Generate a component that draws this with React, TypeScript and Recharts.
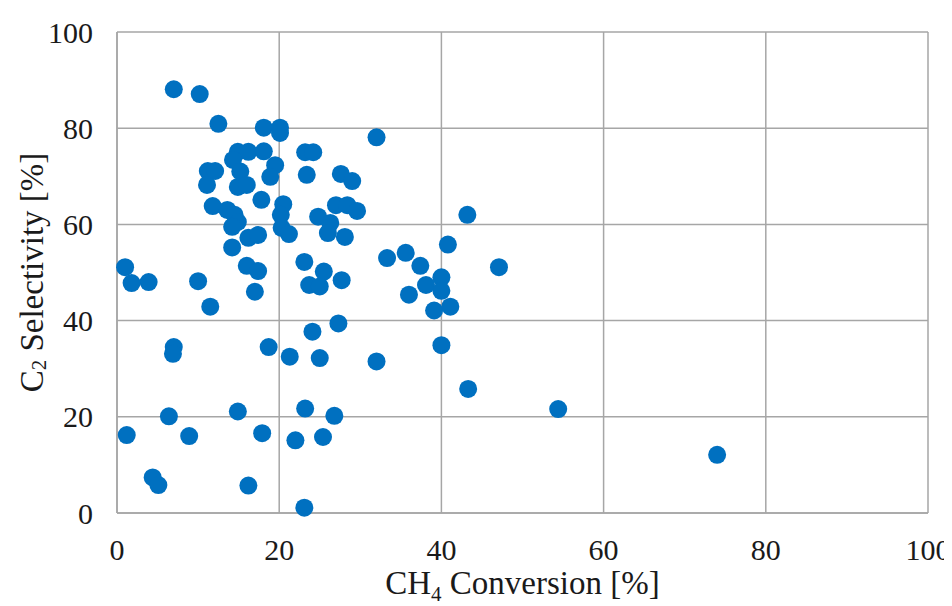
import React from 'react';
import { ScatterChart, Scatter, XAxis, YAxis, CartesianGrid } from 'recharts';

// CH4 conversion [%] for each catalyst run
const conversion = [
  7.0, 10.2, 12.5, 18.1, 20.1, 20.1, 32.0, 23.2, 24.2, 14.9,
  16.2, 18.1, 14.3, 15.2, 19.5, 18.9, 11.2, 12.1, 11.1, 14.9,
  16.0, 23.4, 27.6, 29.0, 17.8, 11.8, 13.6, 14.5, 14.9, 14.2,
  20.5, 20.2, 20.3, 21.2, 16.2, 17.4, 14.2, 27.0, 28.4, 29.6,
  24.8, 26.3, 26.0, 28.1, 43.2, 40.8, 35.6, 33.3, 23.1, 25.5,
  16.0, 17.4, 37.4, 47.1, 1.0, 1.8, 3.9, 10.0, 40.0, 27.7,
  23.7, 25.0, 38.1, 40.0, 36.0, 17.0, 41.1, 39.1, 11.5, 27.3,
  24.1, 40.0, 7.0, 6.9, 18.7, 21.3, 25.0, 32.0, 43.3, 54.4,
  6.4, 14.9, 23.2, 26.8, 1.2, 8.9, 17.9, 22.0, 25.4, 74.0,
  4.4, 5.1, 16.2, 23.1,
];

// C2 selectivity [%] for the same runs
const selectivity = [
  88.1, 87.1, 80.9, 80.1, 80.1, 79.0, 78.1, 75.0, 75.0, 75.1,
  75.1, 75.2, 73.4, 71.0, 72.3, 69.9, 71.1, 71.1, 68.2, 67.8,
  68.2, 70.3, 70.5, 69.0, 65.1, 63.8, 63.0, 62.0, 60.5, 59.5,
  64.2, 62.0, 59.3, 58.0, 57.2, 57.8, 55.2, 64.0, 64.0, 62.8,
  61.6, 60.3, 58.2, 57.4, 62.0, 55.8, 54.1, 53.0, 52.2, 50.2,
  51.4, 50.3, 51.4, 51.1, 51.1, 47.8, 48.0, 48.2, 49.0, 48.4,
  47.4, 47.1, 47.4, 46.2, 45.4, 46.0, 42.9, 42.1, 42.9, 39.4,
  37.7, 34.9, 34.5, 33.1, 34.5, 32.5, 32.2, 31.5, 25.8, 21.6,
  20.1, 21.1, 21.7, 20.2, 16.2, 16.0, 16.6, 15.1, 15.8, 12.1,
  7.4, 5.8, 5.7, 1.1,
];

const ticks = [0, 20, 40, 60, 80, 100];

const points = conversion.map((x, i) => ({ x, y: selectivity[i] }));

const FONT = '"Liberation Serif", "Times New Roman", serif';
const GRID = '#a6a6a6';
const TEXT = '#1a1a1a';

function Dot(props: any) {
  return <circle cx={props.cx} cy={props.cy} r={9} fill="#0070C0" />;
}

function XTitle(props: any) {
  const { x, y, width } = props.viewBox;
  return (
    <text x={x + width / 2} y={y + 81} textAnchor="middle" fontFamily={FONT} fontSize={33} fill={TEXT}>
      CH<tspan fontSize={21} dy={7}>4</tspan>
      <tspan dy={-7}> Conversion [%]</tspan>
    </text>
  );
}

function YTitle(props: any) {
  const { y, height } = props.viewBox;
  const cx = 24;
  const cy = y + height / 2;
  return (
    <text
      x={cx}
      y={cy}
      transform={`rotate(-90 ${cx} ${cy})`}
      textAnchor="middle"
      dominantBaseline="central"
      fontFamily={FONT}
      fontSize={33}
      fill={TEXT}
    >
      C<tspan fontSize={21} dy={7}>2</tspan>
      <tspan dy={-7}> Selectivity  [%]</tspan>
    </text>
  );
}

export default function App() {
  return (
    <div style={{ width: 944, height: 598, background: '#fff' }}>
      <ScatterChart
        width={944}
        height={598}
        margin={{ top: 24, right: 24, left: 0, bottom: 0 }}
        style={{ overflow: 'visible' }}
      >
        <CartesianGrid stroke={GRID} strokeWidth={1.5} />
        <XAxis
          type="number"
          dataKey="x"
          domain={[0, 100]}
          ticks={ticks}
          height={93}
          tickLine={false}
          axisLine={{ stroke: GRID, strokeWidth: 1.5 }}
          tickMargin={20}
          tick={{ fontFamily: FONT, fontSize: 30, fill: TEXT }}
          label={{ content: (p: any) => <XTitle {...p} /> }}
        />
        <YAxis
          type="number"
          dataKey="y"
          domain={[0, 100]}
          ticks={ticks}
          width={109}
          tickLine={false}
          axisLine={{ stroke: GRID, strokeWidth: 1.5 }}
          tickMargin={18}
          tick={{ fontFamily: FONT, fontSize: 30, fill: TEXT }}
          label={{ content: (p: any) => <YTitle {...p} /> }}
        />
        <Scatter data={points} shape={Dot} isAnimationActive={false} />
      </ScatterChart>
    </div>
  );
}
